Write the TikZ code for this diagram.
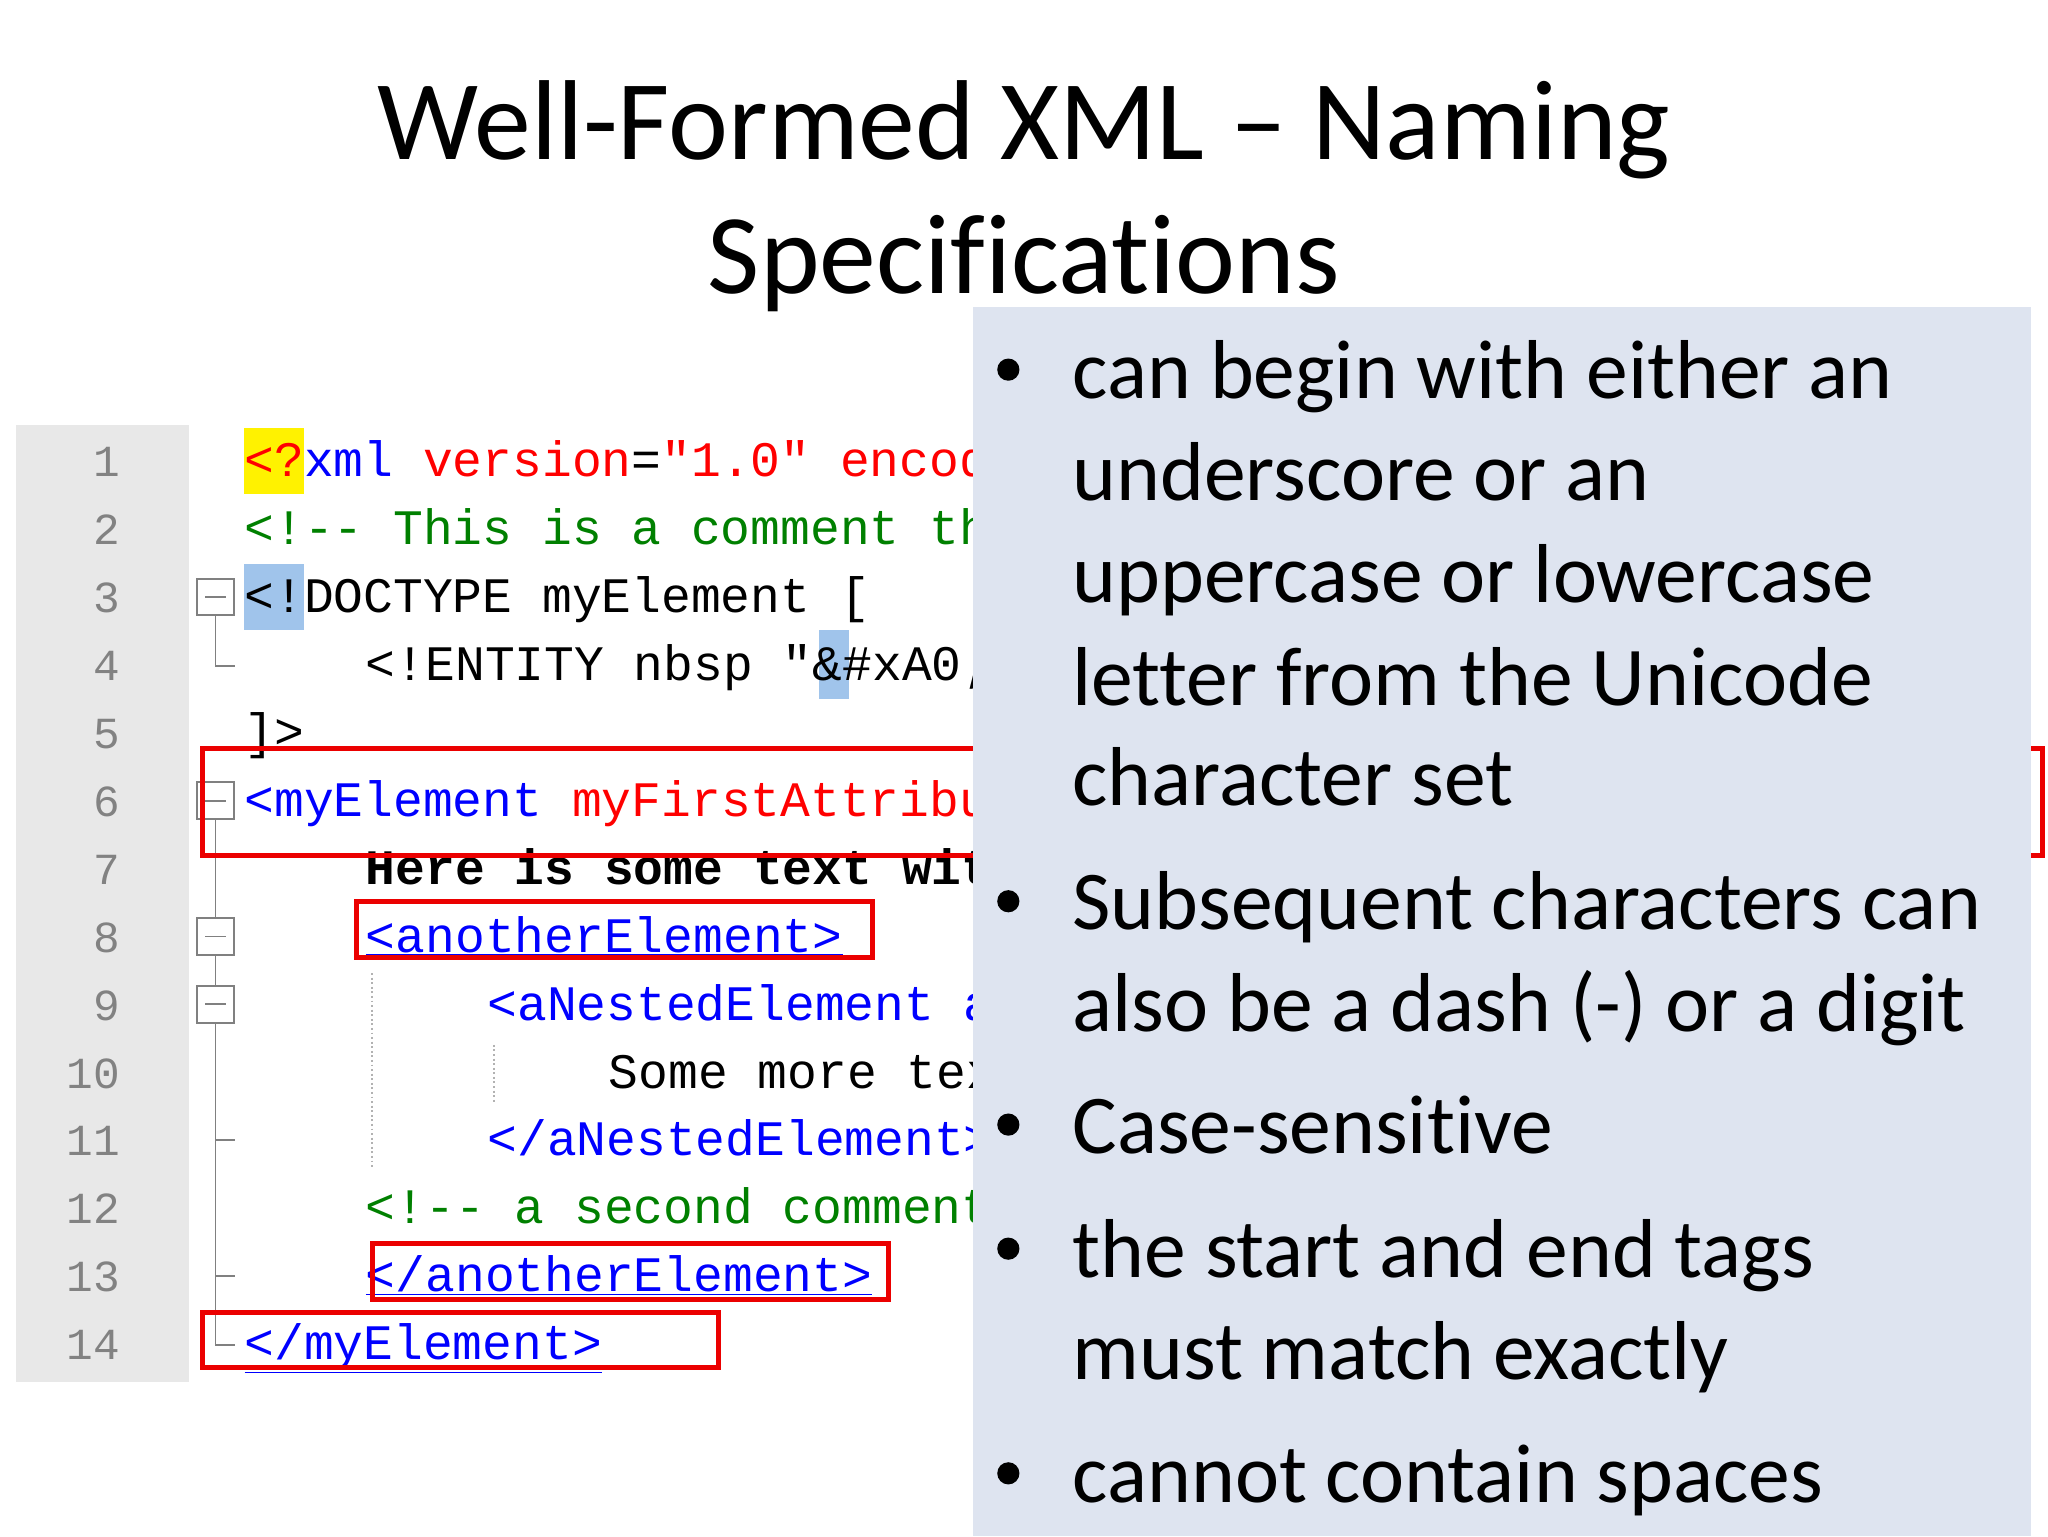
\documentclass[tikz,border=0pt]{standalone}
\usepackage{fontspec}
\setmainfont{Carlito}[Ligatures=NoCommon]
\newfontfamily\codefont{Liberation Mono}
\definecolor{panelbg}{RGB}{222,228,240}
\definecolor{gutter}{RGB}{232,232,232}
\definecolor{cgreen}{RGB}{0,128,0}
\definecolor{cblue}{RGB}{0,0,255}
\definecolor{cred}{RGB}{255,0,0}
\definecolor{hlblue}{RGB}{160,196,235}
\definecolor{lnum}{RGB}{130,130,130}
\definecolor{boxred}{RGB}{235,0,0}
\tikzset{
 code/.style={anchor=base west,inner sep=0pt,font=\codefont\fontsize{38}{40}\selectfont},
 lno/.style={anchor=base east,inner sep=0pt,text=lnum,font=\codefont\fontsize{34}{36}\selectfont},
 bul/.style={anchor=base west,inner sep=0pt,font=\fontsize{64}{70}\selectfont},
 dot/.style={circle,fill=black,inner sep=0pt,minimum size=17pt},
 ttl/.style={anchor=base,inner sep=0pt,font=\fontsize{87}{96}\selectfont},
 redbox/.style={draw=boxred,line width=4pt},
 fold/.style={draw=gray,line width=1.5pt}
}
\begin{document}
\begin{tikzpicture}[x=1pt,y=-1pt]
\useasboundingbox (0,0) rectangle (1568,1176);
\fill[white] (0,0) rectangle (1568,1176);
\node[ttl] (t1) at (784,122) {Well-Formed XML – Naming};
\node[ttl] (t2) at (784,225) {Specifications};
% code panel
\fill[gutter] (12,325) rectangle (145,1058);
\fill[yellow] (187,328) rectangle (233,378);
\fill[hlblue] (187,432) rectangle (233,482);
\fill[hlblue] (627,482) rectangle (650,535);
\foreach \i in {1,...,14} { \node[lno] (n\i) at (92,{353+52*(\i-1)+12}) {\i}; }
\def\b#1{365+52*(#1-1)}
\node[code] (c1) at (187,{\b1}) {\textcolor{cred}{<?}\textcolor{cblue}{xml} \textcolor{cred}{version}=\textcolor{cred}{"1.0"} \textcolor{cred}{encoding}};
\node[code,text=cgreen] (c2) at (187,{\b2}) {<!-- This is a comment that};
\node[code] (c3) at (187,{\b3}) {<!DOCTYPE myElement [};
\node[code] (c4) at (280,{\b4}) {<!ENTITY nbsp "\&\#xA0;">};
\node[code] (c5) at (187,{\b5}) {]>};
\node[code] (c6) at (187,{\b6}) {\textcolor{cblue}{<myElement} \textcolor{cred}{myFirstAttribute}};
\node[code] (c7) at (280,{\b7}) {\textbf{Here is some text with}};
\node[code,text=cblue] (c8) at (280,{\b8}) {\underline{<anotherElement>}};
\node[code,text=cblue] (c9) at (373,{\b9}) {<aNestedElement a};
\node[code] (c10) at (466,{\b{10}}) {Some more text};
\node[code,text=cblue] (c11) at (373,{\b{11}}) {</aNestedElement>};
\node[code,text=cgreen] (c12) at (280,{\b{12}}) {<!-- a second comment};
\node[code,text=cblue] (c13) at (280,{\b{13}}) {\underline{</anotherElement>}};
\node[code,text=cblue] (c14) at (187,{\b{14}}) {\underline{</myElement>}};
% fold markers
\foreach \y in {457,613,717,769} {\draw[fold,fill=white] (151,\y-14) rectangle (179,\y+14); \draw[fold] (157,\y) -- (173,\y);}
\draw[fold] (165,471) -- (165,510) -- (180,510);
\draw[fold] (165,627) -- (165,703);
\draw[fold] (165,731) -- (165,755);
\draw[fold] (165,783) -- (165,1030) -- (180,1030);
\draw[fold] (165,873) -- (180,873);
\draw[fold] (165,977) -- (180,977);
\draw[gray!60,dotted,line width=1.5pt] (285,745) -- (285,895);
\draw[gray!60,dotted,line width=1.5pt] (378,800) -- (378,845);
% red boxes
\draw[redbox] (155,573) rectangle (1564,655);
\draw[redbox] (273,690) rectangle (668,733);
\draw[redbox] (285,952) rectangle (680,995);
\draw[redbox] (155,1005) rectangle (550,1047);
% bullet panel
\fill[panelbg] (745,235) rectangle (1555,1176);
\foreach \y [count=\k] in {305,712,883,978,1150} {\node[dot] (d\k) at (772,\y-22) {};}
\node[bul] (b1a) at (821,305) {can begin with either an};
\node[bul] (b1b) at (821,383) {underscore or an};
\node[bul] (b1c) at (821,461) {uppercase or lowercase};
\node[bul] (b1d) at (821,540) {letter from the Unicode};
\node[bul] (b1e) at (821,617) {character set};
\node[bul] (b2a) at (821,712) {Subsequent characters can};
\node[bul] (b2b) at (821,790) {also be a dash (-) or a digit};
\node[bul] (b3) at (821,883) {Case-sensitive};
\node[bul] (b4a) at (821,978) {the start and end tags};
\node[bul] (b4b) at (821,1056) {must match exactly};
\node[bul] (b5) at (821,1150) {cannot contain spaces};
\end{tikzpicture}
\end{document}
